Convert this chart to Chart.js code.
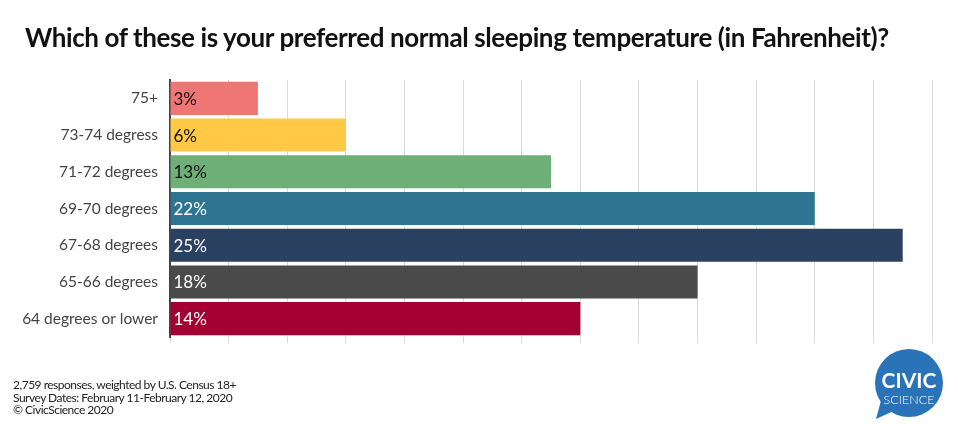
<!DOCTYPE html>
<html>
<head>
<meta charset="utf-8">
<script src="https://cdn.jsdelivr.net/npm/chart.js@4"></script>
<style>
  html, body { margin:0; padding:0; background:#fff; }
  #wrap { position:relative; width:958px; height:431px; overflow:hidden; font-family: Lato, "Noto Sans", sans-serif; }
  #title { position:absolute; left:25px; top:21px; font-size:26px; font-weight:700; color:#111; white-space:nowrap; letter-spacing:-0.4px; }
  #foot { position:absolute; left:13px; top:379px; font-size:12px; line-height:12.5px; color:#222; letter-spacing:-0.5px; }
  canvas { position:absolute; left:0; top:0; }
  #logo { position:absolute; left:868px; top:345px; }
</style>
</head>
<body>
<div id="wrap">
  <canvas id="c" width="958" height="431"></canvas>
  <div id="title">Which of these is your preferred normal sleeping temperature (in Fahrenheit)?</div>
  <div id="foot">2,759 responses, weighted by U.S. Census 18+<br>Survey Dates: February 11-February 12, 2020<br>© CivicScience 2020</div>
  <svg id="logo" width="80" height="80" viewBox="0 0 80 80">
    <circle cx="41" cy="38" r="34" fill="#2a73b8"/>
    <path d="M14 52 L8 74 L30 64 Z" fill="#2a73b8"/>
    <text x="41" y="43" text-anchor="middle" font-family="Lato, sans-serif" font-size="21" font-weight="700" fill="#fff">CIVIC</text>
    <text x="41" y="59" text-anchor="middle" font-family="Lato, sans-serif" font-size="12.5" font-weight="300" fill="#fff">SCIENCE</text>
  </svg>
</div>
<script>
const categories = ["75+", "73-74 degress", "71-72 degrees", "69-70 degrees", "67-68 degrees", "65-66 degrees", "64 degrees or lower"];
const values = [3, 6, 13, 22, 25, 18, 14];
const barColors = ["#f07676", "#ffc845", "#6daf76", "#2f7591", "#2b4162", "#4a4a4a", "#a50034"];
const labelColors = ["#111", "#111", "#111", "#fff", "#fff", "#fff", "#fff"];

const labelPlugin = {
  id: 'barLabels',
  afterDatasetsDraw(chart) {
    const ctx = chart.ctx;
    const meta = chart.getDatasetMeta(0);
    ctx.save();
    ctx.font = '17px Lato, "Noto Sans", sans-serif';
    ctx.textBaseline = 'middle';
    ctx.textAlign = 'left';
    meta.data.forEach((bar, i) => {
      ctx.fillStyle = labelColors[i];
      ctx.fillText(values[i] + '%', bar.base + 3, bar.y + 1);
    });
    ctx.restore();
  }
};

new Chart(document.getElementById('c'), {
  type: 'bar',
  data: {
    labels: categories,
    datasets: [{
      data: values,
      backgroundColor: barColors,
      barPercentage: 0.9,
      categoryPercentage: 1.0
    }]
  },
  options: {
    indexAxis: 'y',
    responsive: false,
    animation: false,
    layout: { padding: { top: 80, bottom: 88, left: 0, right: 26 } },
    plugins: { legend: { display: false }, tooltip: { enabled: false } },
    scales: {
      x: {
        min: 0, max: 26,
        ticks: { display: false, stepSize: 2 },
        grid: { color: '#d9d9d9', lineWidth: 1, drawTicks: true, tickLength: 6 },
        border: { display: false }
      },
      y: {
        ticks: { color: '#444', font: { family: 'Lato, "Noto Sans", sans-serif', size: 15.5 }, padding: 4 },
        grid: { display: false },
        border: { display: true, color: '#444', width: 2 },
        afterFit(scale) { scale.width = 170; }
      }
    }
  },
  plugins: [labelPlugin]
});
</script>
</body>
</html>
